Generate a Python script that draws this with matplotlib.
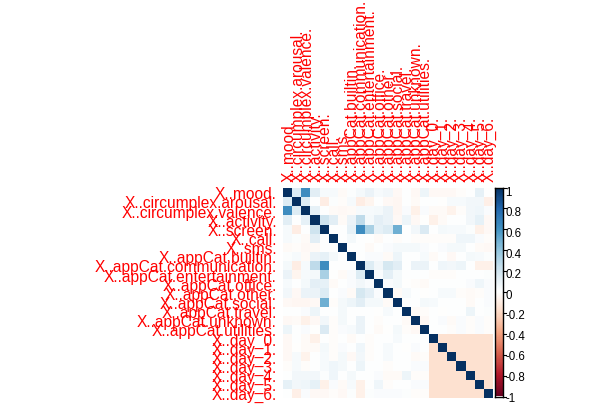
import numpy as np
import matplotlib
matplotlib.use("Agg")
import matplotlib.pyplot as plt
from matplotlib.colors import LinearSegmentedColormap
from matplotlib.lines import Line2D

labels = ["X..mood.", "X..circumplex.arousal.", "X..circumplex.valence.",
          "X..activity.", "X..screen.", "X..call.", "X..sms.",
          "X..appCat.builtin.", "X..appCat.communication.",
          "X..appCat.entertainment.", "X..appCat.office.", "X..appCat.other.",
          "X..appCat.social.", "X..appCat.travel.", "X..appCat.unknown.",
          "X..appCat.utilities.", "X..day_0.", "X..day_1.", "X..day_2.",
          "X..day_3.", "X..day_4.", "X..day_5.", "X..day_6."]

# upper-triangle correlations: each list = correlations with the following variables
corr_mood = [0.15, 0.62, 0.13, 0.03, 0.03, -0.03, 0.01, 0.04, 0.08, 0.03, 0.05,
             -0.04, 0.00, -0.04, 0.07, -0.04, -0.04, -0.04, -0.02, 0.00, 0.10, 0.00]
corr_arousal = [0.15, 0.00, -0.10, 0.01, -0.02, 0.03, -0.10, -0.06, 0.00, -0.04,
                -0.05, 0.00, -0.03, 0.00, 0.00, -0.01, 0.03, 0.03, 0.05, 0.05, -0.09]
corr_valence = [0.10, 0.00, -0.03, -0.04, -0.03, 0.03, 0.03, 0.04, 0.08, -0.05,
                0.02, -0.08, 0.02, -0.03, -0.03, -0.07, -0.02, 0.05, 0.06, 0.02]
corr_activity = [0.20, 0.12, -0.03, 0.08, 0.25, 0.04, 0.11, 0.08, -0.04, 0.07,
                 -0.04, -0.01, -0.08, -0.03, 0.00, 0.00, 0.05, 0.10, -0.04]
corr_screen = [0.00, 0.00, 0.10, 0.62, 0.32, 0.10, 0.15, 0.48, 0.00, 0.05, 0.16,
               0.00, 0.04, 0.03, 0.03, 0.01, -0.08, -0.04]
corr_call = [0.00, 0.04, 0.00, -0.01, -0.03, 0.00, -0.02, 0.00, -0.02, -0.02,
             -0.02, -0.02, -0.02, 0.06, 0.06, 0.02, -0.02]
corr_sms = [0.00, 0.00, -0.03, 0.00, 0.02, 0.04, 0.04, 0.04, 0.02, 0.00, 0.02,
            0.04, 0.04, 0.00, -0.03, -0.04]
corr_builtin = [0.00, 0.02, 0.02, -0.03, 0.07, 0.00, 0.00, 0.03, -0.03, 0.00,
                -0.04, 0.00, 0.04, 0.03, 0.01]
corr_communication = [0.15, 0.05, 0.17, 0.12, 0.00, 0.08, 0.08, 0.00, 0.06, 0.05,
                      0.07, 0.00, -0.08, -0.08]
corr_entertainment = [0.02, 0.11, 0.04, 0.00, 0.00, 0.00, -0.02, -0.02, -0.02,
                      0.00, 0.00, 0.00, 0.01]
corr_office = [0.02, 0.04, -0.01, -0.02, -0.03, 0.00, 0.00, 0.00, 0.00, 0.02,
               0.06, 0.02]
corr_other = [-0.03, 0.03, 0.00, -0.01, 0.00, 0.03, 0.03, -0.02, -0.03, -0.02, 0.02]
corr_social = [0.00, 0.00, 0.04, 0.03, 0.00, 0.00, 0.00, -0.03, 0.00, 0.02]
corr_travel = [-0.03, -0.02, 0.00, -0.01, 0.00, 0.00, 0.07, 0.00, 0.01]
corr_unknown = [-0.04, 0.00, 0.02, -0.03, 0.02, -0.02, 0.02, -0.02]
corr_utilities = [0.00, 0.00, -0.02, 0.02, -0.02, 0.02, -0.02]
corr_day_0 = [-0.17, -0.17, -0.17, -0.17, -0.17, -0.17]
corr_day_1 = [-0.17, -0.17, -0.17, -0.17, -0.17]
corr_day_2 = [-0.17, -0.17, -0.17, -0.17]
corr_day_3 = [-0.17, -0.17, -0.17]
corr_day_4 = [-0.17, -0.17]
corr_day_5 = [-0.17]

cb_values = [1, 0.8, 0.6, 0.4, 0.2, 0, -0.2, -0.4, -0.6, -0.8, -1]
cb_labels = ["1", "0.8", "0.6", "0.4", "0.2", "0", "-0.2", "-0.4", "-0.6", "-0.8", "-1"]

upper_rows = [corr_mood, corr_arousal, corr_valence, corr_activity, corr_screen,
              corr_call, corr_sms, corr_builtin, corr_communication,
              corr_entertainment, corr_office, corr_other, corr_social,
              corr_travel, corr_unknown, corr_utilities, corr_day_0, corr_day_1,
              corr_day_2, corr_day_3, corr_day_4, corr_day_5]

n = len(labels)
M = np.eye(n)
for i, row in enumerate(upper_rows):
    for k, v in enumerate(row):
        j = i + 1 + k
        M[i, j] = v
        M[j, i] = v

cmap = LinearSegmentedColormap.from_list(
    "corrRdBu",
    ["#67001F", "#B2182B", "#D6604D", "#F4A582", "#FDDBC7", "#FFFFFF",
     "#D1E5F0", "#92C5DE", "#4393C3", "#2166AC", "#053061"], N=200)

W, H = 604, 406
fig = plt.figure(figsize=(W / 100, H / 100), dpi=100)


def fx(px):
    return px / W


def fy(py):
    return 1 - py / H


left, right, top, bottom = 283.0, 492.0, 189.0, 399.0
ax = fig.add_axes([fx(left), fy(bottom), fx(right) - fx(left), fy(top) - fy(bottom)])
ax.imshow(M, cmap=cmap, vmin=-1, vmax=1, aspect="auto", interpolation="nearest")
ax.set_axis_off()

cw = (right - left) / n
ch = (bottom - top) / n
font = "Liberation Sans"
fs = 11.2
for i, lab in enumerate(labels):
    cy = top + (i + 0.5) * ch
    fig.text(fx(277), fy(cy + 5.8), lab, ha="right", va="baseline",
             color="red", fontsize=fs, family=font)
    cx = left + (i + 0.5) * cw
    fig.text(fx(cx + 5.8), fy(182), lab, rotation=90, rotation_mode="anchor",
             ha="left", va="baseline", color="red", fontsize=fs, family=font)

# colour legend
cb_l, cb_r, cb_t, cb_b = 494.5, 503.0, 188.5, 397.5
cax = fig.add_axes([fx(cb_l), fy(cb_b), fx(cb_r) - fx(cb_l), fy(cb_t) - fy(cb_b)])
cax.imshow(np.linspace(1, -1, 200)[:, None], cmap=cmap, vmin=-1, vmax=1,
           aspect="auto", interpolation="nearest")
cax.set_xticks([])
cax.set_yticks([])
for s in cax.spines.values():
    s.set_color("black")
    s.set_linewidth(1.0)

for v, lab in zip(cb_values, cb_labels):
    ty = cb_b - (v + 1) / 2 * (cb_b - cb_t)
    fig.add_artist(Line2D([fx(cb_r), fx(cb_r + 2.5)], [fy(ty), fy(ty)],
                          transform=fig.transFigure, color="black", lw=0.8))
    ly = 192.7 + (1 - v) * 103
    fig.text(fx(505), fy(ly), lab, ha="left", va="center", color="black",
             fontsize=8.3, family=font)

fig.savefig("out.png", dpi=100)
